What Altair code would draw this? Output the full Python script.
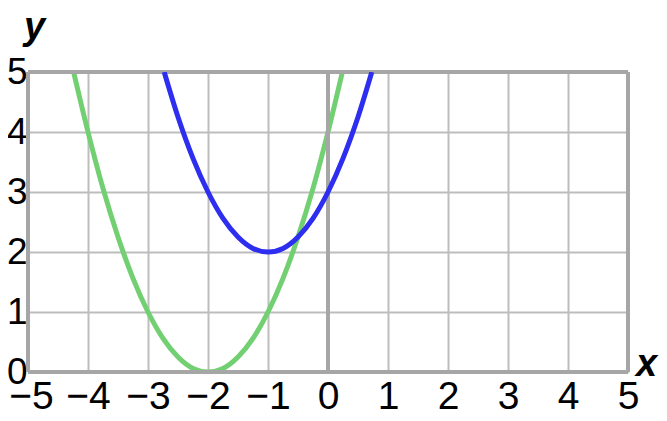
import altair as alt
import pandas as pd

green_x = [-4.24, -4.0, -3.75, -3.5, -3.25, -3.0, -2.75, -2.5, -2.25, -2.0,
           -1.75, -1.5, -1.25, -1.0, -0.75, -0.5, -0.25, 0.0, 0.24]
green_y = [5.0, 4.0, 3.06, 2.25, 1.56, 1.0, 0.56, 0.25, 0.06, 0.0,
           0.06, 0.25, 0.56, 1.0, 1.56, 2.25, 3.06, 4.0, 5.0]
blue_x = [-2.73, -2.5, -2.25, -2.0, -1.75, -1.5, -1.25, -1.0, -0.75, -0.5,
          -0.25, 0.0, 0.25, 0.5, 0.73]
blue_y = [5.0, 4.25, 3.56, 3.0, 2.56, 2.25, 2.06, 2.0, 2.06, 2.25,
          2.56, 3.0, 3.56, 4.25, 5.0]
x_ticks = [-5, -4, -3, -2, -1, 0, 1, 2, 3, 4, 5]
y_ticks = [0, 1, 2, 3, 4, 5]

green = pd.DataFrame({"x": green_x, "y": green_y, "i": range(len(green_x))})
blue = pd.DataFrame({"x": blue_x, "y": blue_y, "i": range(len(blue_x))})
vlines = pd.DataFrame({"x": [x_ticks[0], 0, x_ticks[-1]]})
hlines = pd.DataFrame({"y": [y_ticks[0], y_ticks[-1]]})

FONT = "Liberation Sans"
BORDER = "#a6a6a6"
GRID = "#bdbdbd"

xscale = alt.Scale(domain=[-5, 5], nice=False, zero=False)
yscale = alt.Scale(domain=[0, 5], nice=False, zero=False)

xaxis = alt.Axis(values=x_ticks, format="d", grid=True, gridColor=GRID, gridWidth=2,
                 domain=False, ticks=False, labelFontSize=39, labelFont=FONT,
                 labelColor="#000", labelPadding=5, labelOverlap=False, labelFlush=False,
                 labelOffset={"condition": {"test": "datum.value == -5", "value": 3}, "value": 0},
                 labelExpr="replace(datum.label, '-', '\u2212')",
                 title="x", titleFont=FONT, titleFontSize=38, titleFontWeight="bold",
                 titleFontStyle="italic", titleAlign="center", titleBaseline="alphabetic",
                 titleX=618, titleY=3, titleColor="#000")
yaxis = alt.Axis(values=y_ticks, format="d", grid=True, gridColor=GRID, gridWidth=2,
                 domain=False, ticks=False, labelFontSize=37, labelFont=FONT,
                 labelColor="#000", labelPadding=1, labelOverlap=False, labelFlush=False,
                 title="y", titleFont=FONT, titleFontSize=38, titleFontWeight="bold",
                 titleFontStyle="italic", titleAngle=0, titleAlign="center",
                 titleBaseline="alphabetic", titleX=6, titleY=-34, titleColor="#000")

X = alt.X("x:Q", scale=xscale, axis=xaxis, title="x")
Y = alt.Y("y:Q", scale=yscale, axis=yaxis, title="y")

base_green = alt.Chart(green).mark_line(color="#72d072", strokeWidth=5,
                                        interpolate="monotone", clip=True).encode(
    x=X, y=Y, order="i:Q",
)
base_blue = alt.Chart(blue).mark_line(color="#2e2ef0", strokeWidth=5,
                                      interpolate="monotone", clip=True).encode(
    x=X, y=Y, order="i:Q",
)
v_rules = alt.Chart(vlines).mark_rule(color=BORDER, strokeWidth=4).encode(x=X)
h_rules = alt.Chart(hlines).mark_rule(color=BORDER, strokeWidth=4).encode(y=Y)

chart = alt.layer(base_green, v_rules, h_rules, base_blue).properties(
    width=600, height=300,
    autosize=alt.AutoSizeParams(type="none"),
    padding={"left": 20, "top": 64, "right": 31, "bottom": 41},
).configure_view(stroke=None).configure(background="white")

chart.save("out.html", embed_options={"renderer": "svg", "actions": False})
